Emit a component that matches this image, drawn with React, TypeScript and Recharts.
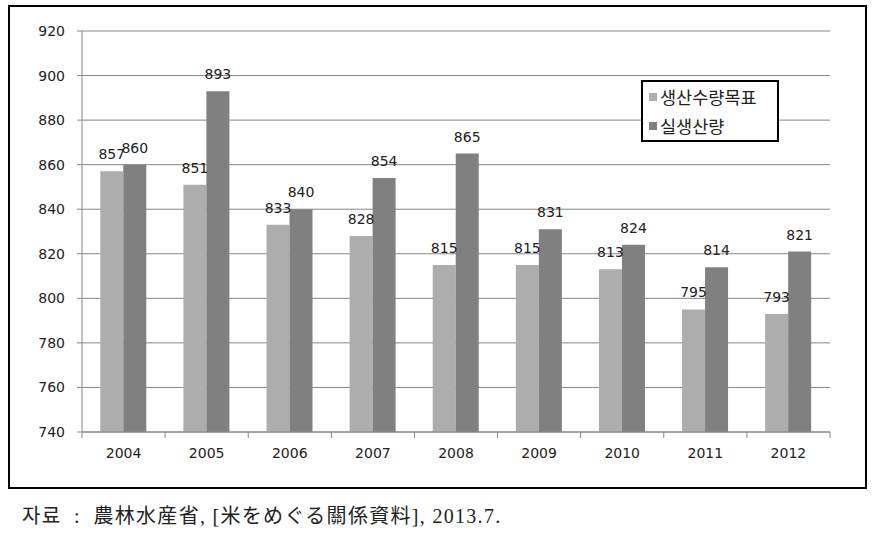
import { BarChart, Bar, XAxis, YAxis, CartesianGrid, LabelList } from "recharts";

const years = ["2004", "2005", "2006", "2007", "2008", "2009", "2010", "2011", "2012"];
const targetValues = [857, 851, 833, 828, 815, 815, 813, 795, 793];
const actualValues = [860, 893, 840, 854, 865, 831, 824, 814, 821];
const yTicks = [740, 760, 780, 800, 820, 840, 860, 880, 900, 920];
const seriesNames = ["생산수량목표", "실생산량"];
const seriesColors = ["#ADADAD", "#808080"];

const data = years.map((year, i) => ({
  year,
  target: targetValues[i],
  actual: actualValues[i],
}));

const BAND = (830 - 82) / years.length;
const FONT = "'DejaVu Sans', sans-serif";

// x축 눈금은 카테고리 경계에 그림
const YearTick = (props: any) => {
  const { x, y, payload, index } = props;
  const axisY = y - 8;
  return (
    <g>
      <line x1={x - BAND / 2} y1={axisY} x2={x - BAND / 2} y2={axisY + 6} stroke="#888" />
      {index === years.length - 1 && (
        <line x1={x + BAND / 2} y1={axisY} x2={x + BAND / 2} y2={axisY + 6} stroke="#888" />
      )}
      <text x={x} y={axisY + 26} textAnchor="middle" fill="#222" fontSize={14} fontFamily={FONT}>
        {payload.value}
      </text>
    </g>
  );
};

const LegendBox = () => (
  <div
    style={{
      position: "absolute",
      left: 641,
      top: 80,
      width: 134,
      height: 58,
      border: "2px solid #000",
      background: "#fff",
      fontFamily: "'Noto Sans CJK KR', sans-serif",
      fontSize: 17.5,
      color: "#222",
    }}
  >
    {seriesNames.map((name, i) => (
      <div key={name} style={{ display: "flex", alignItems: "center", height: 29, paddingLeft: 6 }}>
        <span style={{ width: 8, height: 8, background: seriesColors[i], marginRight: 3, display: "inline-block" }} />
        <span>{name}</span>
      </div>
    ))}
  </div>
);

export default function App() {
  return (
    <div style={{ position: "fixed", left: 0, top: 0, width: 874, height: 534, background: "#fff" }}>
      <div
        style={{
          position: "absolute",
          left: 8,
          top: 5,
          width: 855,
          height: 480,
          border: "2px solid #000",
        }}
      />
      <div style={{ position: "absolute", left: 0, top: 0 }}>
        <BarChart
          width={874}
          height={534}
          data={data}
          margin={{ top: 31, right: 44, left: 22, bottom: 72 }}
          barCategoryGap="22%"
          barGap={0}
        >
          <CartesianGrid vertical={false} stroke="#868686" strokeWidth={1} />
          <XAxis
            dataKey="year"
            axisLine={{ stroke: "#888" }}
            tickLine={false}
            tick={<YearTick />}
            height={30}
            interval={0}
          />
          <YAxis
            domain={[740, 920]}
            ticks={yTicks}
            width={60}
            axisLine={{ stroke: "#888" }}
            tickLine={{ stroke: "#888" }}
            tickSize={5}
            tickMargin={12}
            tick={{ fill: "#222", fontSize: 14, fontFamily: FONT }}
          />
          <Bar dataKey="target" name={seriesNames[0]} fill={seriesColors[0]} isAnimationActive={false}>
            <LabelList dataKey="target" position="top" offset={12} fill="#222" fontSize={14} fontFamily={FONT} />
          </Bar>
          <Bar dataKey="actual" name={seriesNames[1]} fill={seriesColors[1]} isAnimationActive={false}>
            <LabelList dataKey="actual" position="top" offset={12} fill="#222" fontSize={14} fontFamily={FONT} />
          </Bar>
        </BarChart>
      </div>
      <LegendBox />
      <div
        style={{
          position: "absolute",
          left: 22,
          top: 500,
          fontFamily: "'Liberation Serif', 'Noto Sans CJK KR', serif",
          fontSize: 20,
          letterSpacing: 1.3,
          color: "#222",
          whiteSpace: "pre",
        }}
      >
        {"자료  :  農林水産省, [米をめぐる關係資料], 2013.7."}
      </div>
    </div>
  );
}
